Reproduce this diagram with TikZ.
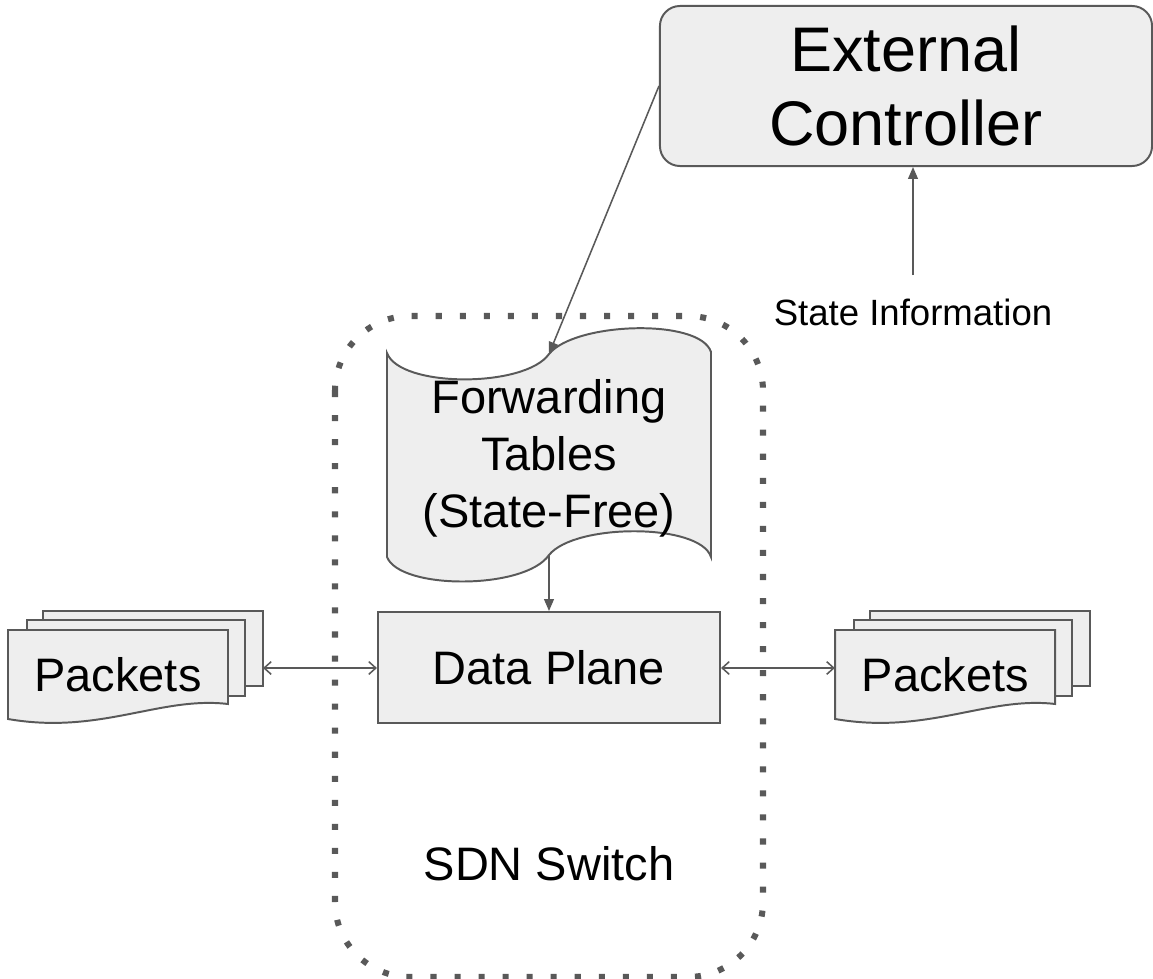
\documentclass[tikz,border=0pt]{standalone}
\usepackage{fontspec}
\setmainfont{Liberation Sans}
\usetikzlibrary{arrows.meta}
\definecolor{boxfill}{HTML}{EEEEEE}
\definecolor{boxline}{HTML}{595959}
\tikzset{
    card/.style={draw=boxline,fill=boxfill,line width=1.4pt},
    big/.style={font=\fontsize{33.4}{40.5}\selectfont,align=center},
    feed/.style={draw=boxline,line width=1.1pt,-{Triangle[length=8.5pt,width=7pt]}},
    duplex/.style={draw=boxline,line width=1.1pt,{Straight Barb[length=5pt,width=9pt]}-{Straight Barb[length=5pt,width=9pt]}},
    switchframe/.style={draw=boxline,line width=4.3pt,dash pattern=on 4.3pt off 12.8pt,rounded corners=1.875cm}
}
\newcommand{\pktstack}[2]{%
    \begin{scope}[xshift=#2]
        \draw[card] (43,611) rectangle (263,686);
        \draw[card] (27,620) rectangle (245,696);
        \draw[card] (8,630) -- (228,630) -- (228,704) .. controls (160,696) and (100,735) .. (8,719) -- cycle;
        \node at (118,675) [big,minimum width=5.5cm] (#1) {Packets};
        \coordinate (#1r) at (263,668);
    \end{scope}}

\begin{document}
\begin{tikzpicture}[x=0.025cm,y=-0.025cm]
    \useasboundingbox (0,0) rectangle (1153,979);
    \draw[switchframe] (335,316) rectangle (763,977);
    \node at (549,864) [big] (sdn) {SDN Switch};

    \node at (906,86) [card,rounded corners=0.5cm,minimum width=12.3cm,minimum height=4cm,
        font=\fontsize{44.8}{53.3}\selectfont,align=center] (ctrl) {External\\Controller};
    \node at (913,325) [anchor=base,font=\fontsize{26}{30}\selectfont] (info) {State Information};
    \coordinate (infotop) at (913,275);

    \draw[card] (387,353) .. controls (400,388) and (525,388) .. (549,354)
        .. controls (575,322) and (700,318) .. (711,352) -- (711,557)
        .. controls (700,523) and (575,523) .. (549,555)
        .. controls (525,590) and (400,590) .. (387,557) -- cycle;
    \node at (549,458) [big] (tables) {Forwarding\\Tables\\(State-Free)};
    \coordinate (tabtop) at (549,354);
    \coordinate (tabbot) at (549,555);

    \node at (549,667.5) [card,big,minimum width=8.55cm,minimum height=2.775cm] (dp) {Data Plane};

    \pktstack{pl}{0cm}
    \pktstack{pr}{20.675cm}

    \draw[feed] (ctrl.west) -- (tabtop);
    \draw[feed] (tabbot) -- (dp.north);
    \draw[feed] (infotop) -- (ctrl.south -| infotop);
    \draw[duplex] (plr) -- (plr -| dp.west);
    \draw[duplex] (dp.east |- plr) -- (plr -| pr.west);
\end{tikzpicture}
\end{document}
